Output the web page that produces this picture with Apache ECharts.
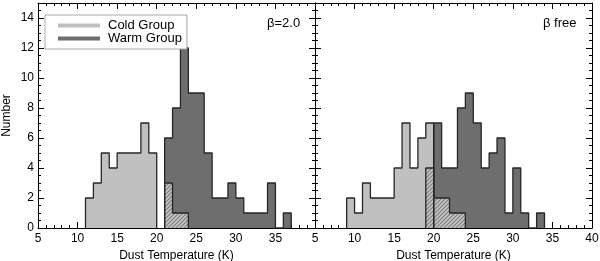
<!DOCTYPE html>
<html><head><meta charset="utf-8">
<script src="https://cdn.jsdelivr.net/npm/echarts@6/dist/echarts.min.js"></script>
<style>html,body{margin:0;padding:0;background:#fff}#c{width:600px;height:261px}</style>
</head><body><div id="c"></div>
<script>
// Histogram data: first bin lower edge (K) and counts per 1 K bin
const coldLStart = 11;
const coldL = [2, 3, 5, 4, 5, 5, 5, 7, 5];
const warmLStart = 21;
const warmL = [6, 8, 12, 9, 9, 5, 2, 2, 3, 2, 1, 1, 1, 3, 0, 1];
const hatchLStart = 21;
const hatchL = [3, 1, 1];

const coldRStart = 9;
const coldR = [2, 1, 3, 2, 2, 2, 4, 7, 4, 6, 7];
const warmRStart = 20;
const warmR = [7, 4, 4, 8, 9, 7, 4, 5, 6, 1, 4, 1, 0, 1];
const hatchRStart = 19;
const hatchR = [4, 2, 2, 1, 1];

const xTicks = [5, 10, 15, 20, 25, 30, 35, 40];
const yTicks = [0, 2, 4, 6, 8, 10, 12, 14];
const panelLabels = ['β=2.0', 'β free'];
const legendNames = ['Cold Group', 'Warm Group'];

const FONT = '"Liberation Sans", Arial, Helvetica, sans-serif';
const LIGHT = '#c0c0c0', DARK = '#6e6e6e', EDGE = '#262626';

function steps(start, counts) {
  const d = [[start, 0]];
  counts.forEach((c, i) => d.push([start + i, c]));
  d.push([start + counts.length, 0]);
  return d;
}

// hatch pattern
const pc = document.createElement('canvas');
pc.width = 4; pc.height = 4;
const g = pc.getContext('2d');
g.fillStyle = '#c4c4c4'; g.fillRect(0, 0, 4, 4);
g.strokeStyle = '#7c7c7c'; g.lineWidth = 1.1;
g.beginPath();
g.moveTo(-1, 5); g.lineTo(5, -1);
g.moveTo(-1, 1); g.lineTo(1, -1);
g.moveTo(3, 5); g.lineTo(5, 3);
g.stroke();

const chart = echarts.init(document.getElementById('c'), null, {renderer: 'canvas'});

function xAxis(grid, pos, showLabels, hideLast, withName) {
  return {
    type: 'value', gridIndex: grid, position: pos, min: 5, max: 40, interval: 5,
    axisLine: {show: true, onZero: false, lineStyle: {color: '#000', width: 1}},
    axisTick: {show: true, inside: true, length: 6, lineStyle: {color: '#000'}},
    minorTick: {show: true, splitNumber: 5, length: 3, lineStyle: {color: '#000'}},
    splitLine: {show: false},
    axisLabel: {show: showLabels, margin: 5, color: '#000', fontSize: 12, fontFamily: FONT,
      formatter: v => (hideLast && v === 40) ? '' : (xTicks.includes(v) ? String(v) : '')},
    name: withName ? 'Dust Temperature (K)' : '', nameLocation: 'middle', nameGap: 20,
    nameTextStyle: {color: '#000', fontSize: 12, fontFamily: FONT}
  };
}
function yAxis(grid, pos, showLabels, withName) {
  return {
    type: 'value', gridIndex: grid, position: pos, min: 0, max: 15, interval: 2,
    axisLine: {show: true, lineStyle: {color: '#000', width: 1}},
    axisTick: {show: true, inside: true, length: 6, lineStyle: {color: '#000'}},
    minorTick: {show: true, splitNumber: 4, length: 3, lineStyle: {color: '#000'}},
    splitLine: {show: false},
    axisLabel: {show: showLabels, margin: 4, color: '#000', fontSize: 12, fontFamily: FONT,
      formatter: v => yTicks.includes(v) ? String(v) : ''},
    name: withName ? 'Number' : '', nameLocation: 'middle', nameGap: 25, nameRotate: 90,
    nameTextStyle: {color: '#000', fontSize: 12, fontFamily: FONT}
  };
}
function hist(name, xi, yi, data, fill, color) {
  return {
    name: name, type: 'line', step: 'end', xAxisIndex: xi, yAxisIndex: yi,
    data: data, showSymbol: false, symbol: 'none', silent: true, animation: false,
    color: color,
    lineStyle: {color: EDGE, width: 1.3},
    areaStyle: {color: fill, opacity: 1}
  };
}

const hatchFill = {image: pc, repeat: 'repeat'};

chart.setOption({
  animation: false,
  grid: [
    {left: 38, top: 3, width: 277, height: 225, containLabel: false, outerBoundsMode: 'none'},
    {left: 315, top: 3, width: 277, height: 225, containLabel: false, outerBoundsMode: 'none'}
  ],
  xAxis: [
    xAxis(0, 'bottom', true, true, true),
    xAxis(0, 'top', false, false, false),
    xAxis(1, 'bottom', true, false, true),
    xAxis(1, 'top', false, false, false)
  ],
  yAxis: [
    yAxis(0, 'left', true, true),
    yAxis(0, 'right', false, false),
    yAxis(1, 'left', false, false),
    yAxis(1, 'right', false, false)
  ],
  legend: {
    data: [
      {name: legendNames[0], itemStyle: {color: LIGHT}},
      {name: legendNames[1], itemStyle: {color: DARK}}
    ],
    orient: 'vertical', left: 45, top: 15,
    padding: [4, 5, 4, 13], itemGap: 0, itemWidth: 42, itemHeight: 4, icon: 'rect',
    borderColor: '#a8a8a8', borderWidth: 1, backgroundColor: '#fff',
    textStyle: {color: '#000', fontSize: 13, fontFamily: FONT, lineHeight: 13, padding: [0, 0, 0, 3]},
    selectedMode: false
  },
  graphic: [
    {type: 'text', left: 267, top: 17, style: {text: panelLabels[0], font: '13px ' + FONT, fill: '#000'}},
    {type: 'text', left: 543, top: 17, style: {text: panelLabels[1], font: '13px ' + FONT, fill: '#000'}}
  ],
  series: [
    hist(legendNames[0], 0, 0, steps(coldLStart, coldL), LIGHT, LIGHT),
    hist(legendNames[1], 0, 0, steps(warmLStart, warmL), DARK, DARK),
    hist('hatchL', 0, 0, steps(hatchLStart, hatchL), hatchFill, '#999'),
    hist(legendNames[0], 2, 2, steps(coldRStart, coldR), LIGHT, LIGHT),
    hist(legendNames[1], 2, 2, steps(warmRStart, warmR), DARK, DARK),
    hist('hatchR', 2, 2, steps(hatchRStart, hatchR), hatchFill, '#999')
  ]
});
</script></body></html>
